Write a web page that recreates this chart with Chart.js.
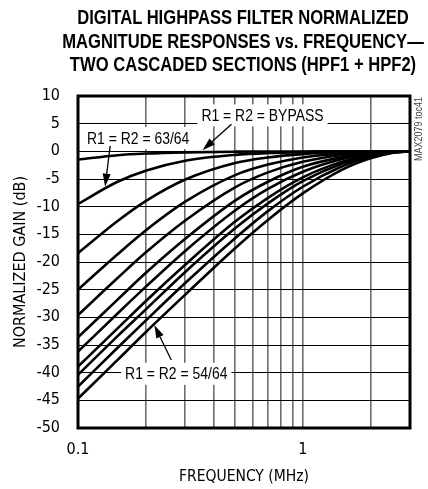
<!DOCTYPE html>
<html>
<head>
<meta charset="utf-8">
<script src="https://cdn.jsdelivr.net/npm/chart.js@4"></script>
<style>
  body { margin: 0; background: #fff; }
  #wrap { position: relative; width: 428px; height: 489px; overflow: hidden; }
  #title {
    position: absolute; top: 6px; left: -7px; width: 500px;
    text-align: center; white-space: nowrap;
    font: bold 20px 'Liberation Sans', Arial, sans-serif;
    line-height: 23.5px; color: #000;
    transform: scaleX(0.83); transform-origin: 250px 0;
  }
  canvas { position: absolute; top: 0; left: 0; }
</style>
</head>
<body>
<div id="wrap">
  <canvas id="chart" width="428" height="489"></canvas>
  <div id="title">DIGITAL HIGHPASS FILTER NORMALIZED<br>MAGNITUDE RESPONSES vs. FREQUENCY—<br>TWO CASCADED SECTIONS (HPF1 + HPF2)</div>
</div>
<script>
// frequency points (MHz) where the curves were read
const freq = [0.1, 0.15, 0.2, 0.3, 0.5, 0.7, 1, 1.5, 2, 2.5, 3];

// normalized gain (dB), one row per R1 = R2 setting
const bypass = [-1.5, -0.7, -0.4, -0.18, -0.06, -0.03, -0.02, 0, 0, 0, 0];
const r63 = [-9.5, -5.5, -3.5, -1.7, -0.64, -0.31, -0.14, -0.05, -0.02, 0, 0];
const r62 = [-18.4, -12.6, -9.0, -5.1, -2.1, -1.1, -0.5, -0.17, -0.06, -0.01, 0];
const r61 = [-25.0, -18.6, -14.3, -9.1, -4.3, -2.4, -1.1, -0.39, -0.13, -0.03, 0];
const r60 = [-29.6, -22.9, -18.3, -12.5, -6.5, -3.8, -1.9, -0.67, -0.23, -0.05, 0];
const r59 = [-33.6, -26.8, -22.0, -15.8, -8.9, -5.5, -2.8, -1.05, -0.36, -0.08, 0];
const r58 = [-36.2, -29.3, -24.5, -18.0, -10.7, -6.8, -3.7, -1.4, -0.49, -0.11, 0];
const r57 = [-38.9, -32.0, -27.1, -20.5, -12.7, -8.4, -4.7, -1.86, -0.67, -0.15, 0];
const r56 = [-40.4, -33.4, -28.6, -21.8, -13.9, -9.4, -5.4, -2.2, -0.79, -0.18, 0];
const r55 = [-42.5, -35.5, -30.6, -23.8, -15.7, -10.8, -6.4, -2.7, -0.99, -0.22, 0];
const r54 = [-44.7, -37.7, -32.7, -25.9, -17.5, -12.4, -7.6, -3.3, -1.26, -0.29, 0];

const seriesNames = ['BYPASS', '63/64', '62/64', '61/64', '60/64', '59/64', '58/64', '57/64', '56/64', '55/64', '54/64'];
const series = [bypass, r63, r62, r61, r60, r59, r58, r57, r56, r55, r54];

// axis ticks
const xGrid = [0.1, 0.2, 0.3, 0.4, 0.5, 0.6, 0.7, 0.8, 0.9, 1, 2, 3];
const xTickLabels = [0.1, 1];

const FONT = "'DejaVu Sans Condensed', 'Liberation Sans', sans-serif";
const NARROW = 0.82; // horizontal squeeze for hand-drawn text

// callouts, anchored in data units (MHz, dB)
const callouts = [
  { text: 'R1 = R2 = BYPASS', x: 0.354, y: 6.5, from: [0.482, 4.9], to: [0.358, 0.2] },
  { text: 'R1 = R2 = 63/64', x: 0.1097, y: 2.4, from: [0.139, 1.0], to: [0.132, -6.4] },
  { text: 'R1 = R2 = 54/64', x: 0.162, y: -40.2, from: [0.260, -37.7], to: [0.2185, -31.4] }
];

function arrow(ctx, x1, y1, x2, y2) {
  const a = Math.atan2(y2 - y1, x2 - x1);
  const len = 13, wid = 4;
  const bx = x2 - len * Math.cos(a), by = y2 - len * Math.sin(a);
  ctx.beginPath();
  ctx.moveTo(x1, y1);
  ctx.lineTo(bx, by);
  ctx.stroke();
  ctx.beginPath();
  ctx.moveTo(x2, y2);
  ctx.lineTo(bx + wid * Math.sin(a), by - wid * Math.cos(a));
  ctx.lineTo(bx - wid * Math.sin(a), by + wid * Math.cos(a));
  ctx.closePath();
  ctx.fill();
}

const notes = {
  id: 'notes',
  beforeDatasetsDraw(chart) {
    const { ctx, scales: { x, y } } = chart;
    ctx.save();
    ctx.font = "17px 'Liberation Sans', Arial, sans-serif";
    ctx.textBaseline = 'middle';
    callouts.forEach(c => {
      const px = x.getPixelForValue(c.x), py = y.getPixelForValue(c.y);
      const w = ctx.measureText(c.text).width * NARROW;
      ctx.fillStyle = '#fff';
      ctx.fillRect(px - 4, py - 11, w + 8, 22);
      ctx.fillStyle = '#000';
      ctx.save();
      ctx.translate(px, py + 1);
      ctx.scale(NARROW, 1);
      ctx.fillText(c.text, 0, 0);
      ctx.restore();
    });
    ctx.restore();
  },
  afterDatasetsDraw(chart) {
    const { ctx, chartArea: a, scales: { x, y } } = chart;
    ctx.save();
    ctx.strokeStyle = '#000';
    ctx.fillStyle = '#000';
    ctx.lineWidth = 1.3;
    callouts.forEach(c => {
      arrow(ctx, x.getPixelForValue(c.from[0]), y.getPixelForValue(c.from[1]),
        x.getPixelForValue(c.to[0]), y.getPixelForValue(c.to[1]));
    });
    ctx.lineWidth = 3;
    ctx.strokeRect(a.left, a.top, a.right - a.left, a.bottom - a.top);
    // figure id
    ctx.translate(a.right + 9, a.top + 33);
    ctx.rotate(-Math.PI / 2);
    ctx.scale(NARROW, 1);
    ctx.font = "11px 'Liberation Sans', Arial, sans-serif";
    ctx.fillStyle = '#444';
    ctx.textAlign = 'center';
    ctx.textBaseline = 'middle';
    ctx.fillText('MAX2079 toc41', 0, 0);
    ctx.restore();
  }
};

new Chart(document.getElementById('chart'), {
  type: 'line',
  data: {
    datasets: series.map((vals, i) => ({
      label: 'R1 = R2 = ' + seriesNames[i],
      data: freq.map((f, j) => ({ x: f, y: vals[j] })),
      borderColor: '#000',
      borderWidth: 2.6,
      pointRadius: 0,
      fill: false,
      cubicInterpolationMode: 'monotone'
    }))
  },
  options: {
    responsive: false,
    animation: false,
    layout: { padding: { top: 96, right: 18, left: 0, bottom: 0 } },
    plugins: { legend: { display: false }, tooltip: { enabled: false }, title: { display: false } },
    scales: {
      x: {
        type: 'logarithmic', min: 0.1, max: 3,
        afterBuildTicks: s => { s.ticks = xGrid.map(v => ({ value: v })); },
        afterFit: s => { s.height = 61; },
        ticks: {
          autoSkip: false, maxRotation: 0, padding: 12, color: '#000',
          font: { family: FONT, size: 16 },
          callback: v => xTickLabels.some(t => Math.abs(t - v) < 1e-9) ? String(v) : ''
        },
        grid: { color: '#6e6e6e', lineWidth: 1.6, drawTicks: false },
        border: { display: false },
        title: { display: true, text: 'FREQUENCY (MHz)', color: '#000', font: { family: FONT, size: 15.5 }, padding: { top: 0, bottom: 3 } }
      },
      y: {
        min: -50, max: 10,
        afterFit: s => { s.width = 78; },
        ticks: { stepSize: 5, padding: 18, color: '#000', font: { family: FONT, size: 16 } },
        grid: { color: '#000', lineWidth: 1, drawTicks: false },
        border: { display: false },
        title: { display: true, text: 'NORMALIZED GAIN (dB)', color: '#000', font: { family: FONT, size: 16 }, padding: { top: 11, bottom: 0 } }
      }
    }
  },
  plugins: [notes]
});
</script>
</body>
</html>
